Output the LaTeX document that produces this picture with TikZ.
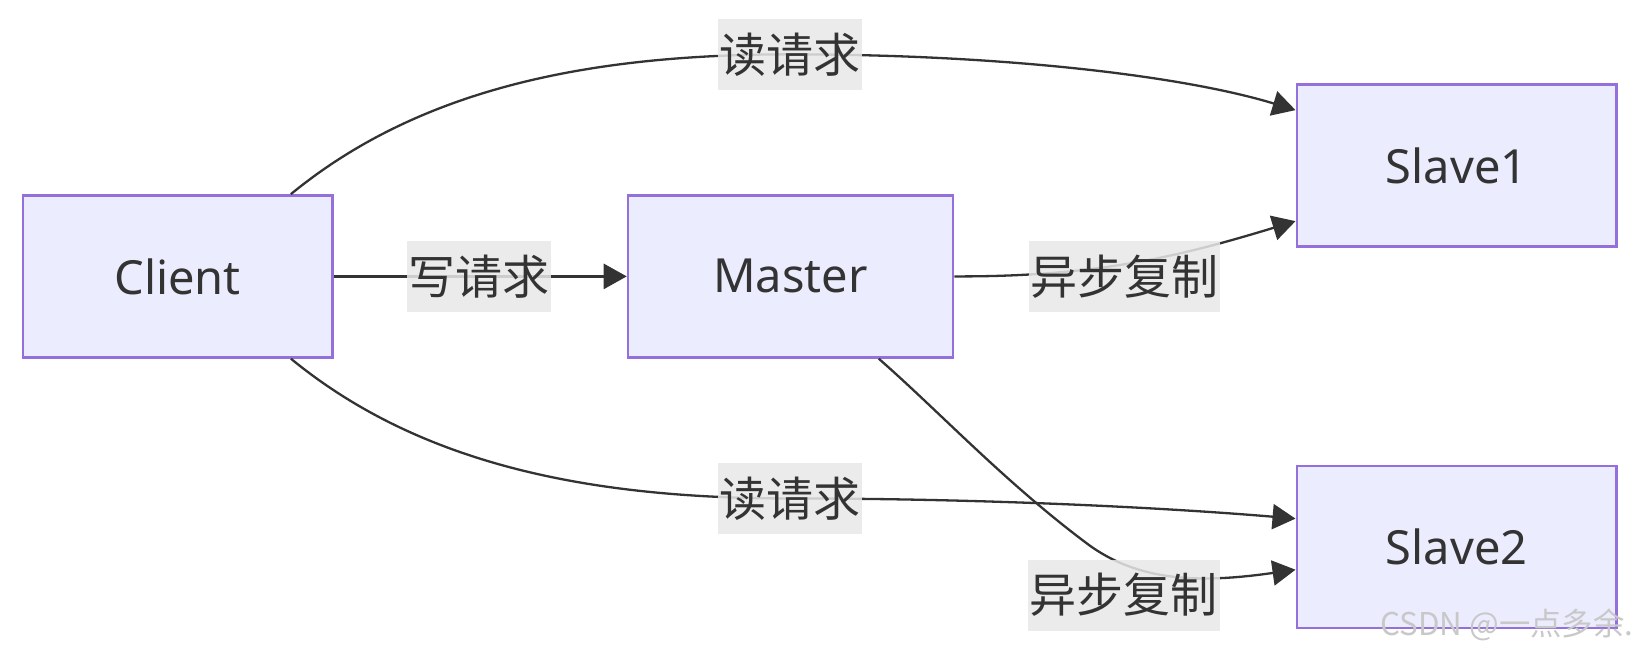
\documentclass[tikz,border=0pt]{standalone}
\usepackage{fontspec}
\setmainfont{Noto Sans}
\newfontfamily\cjk{Noto Sans CJK SC}
\usetikzlibrary{arrows.meta}
\definecolor{nodefill}{HTML}{ECECFF}
\definecolor{nodeborder}{HTML}{9370DB}
\definecolor{edgecol}{HTML}{333333}
\definecolor{labelfill}{HTML}{E8E8E8}
\definecolor{wmark}{HTML}{C8C8C8}
\tikzset{
  box/.style={draw=nodeborder, fill=nodefill, line width=2.5pt, text=edgecol,
    minimum height=155pt, inner sep=0pt, font=\fontsize{45}{54}\selectfont},
  edge/.style={draw=edgecol, line width=2.2pt, -{Triangle[length=22pt,width=24pt]}},
  lbl/.style={fill=labelfill, fill opacity=0.85, text opacity=1, text=edgecol,
    inner xsep=1.5pt, inner ysep=0pt, minimum height=68pt,
    font=\cjk\fontsize{45}{54}\selectfont},
}
\begin{document}
\begin{tikzpicture}[x=1pt,y=-1pt]
\useasboundingbox (0,0) rectangle (1567.5,624);
\node[box, minimum width=296pt] (client) at (170,264.5) {Client};
\node[box, minimum width=311pt] (master) at (756.5,264.5) {Master};
\node[box, minimum width=306pt] (slave1) at (1394,158.5) {Slave1};
\node[box, minimum width=306pt] (slave2) at (1394,523.5) {Slave2};

\coordinate (lr1) at (756,52);
\coordinate (lw) at (458.5,265);
\coordinate (lr2) at (756,477);
\coordinate (la1) at (1076,264.5);
\coordinate (la2) at (1075.5,569.5);
\coordinate (mid5) at (1040,520);

\draw[edge] (client.36) .. controls (400,86) and (560,52) .. (lr1)
  .. controls (956,52) and (1130,72) .. (slave1.161);
\draw[edge] (client.east) -- (master.west);
\draw[edge] (client.-36) .. controls (400,443) and (560,477) .. (lr2)
  .. controls (956,477) and (1130,487) .. (slave2.170);
\draw[edge] (master.east) .. controls (1050,265) and (1130,245) .. (slave1.199);
\draw[edge] (master.-43) .. controls (900,395) and (960,460) .. (mid5)
  .. controls (1090,557.5) and (1150,558) .. (slave2.188);

\node[lbl] (t1) at (lr1) {读请求};
\node[lbl] (t2) at (lw) {写请求};
\node[lbl] (t3) at (lr2) {读请求};
\node[lbl] (t4) at (la1) {异步复制};
\node[lbl] (t5) at (la2) {异步复制};

\node[text=wmark, font=\cjk\fontsize{30}{34}\selectfont, inner sep=0pt] (wm) at (1442,598) {CSDN @一点多余.};
\end{tikzpicture}
\end{document}
